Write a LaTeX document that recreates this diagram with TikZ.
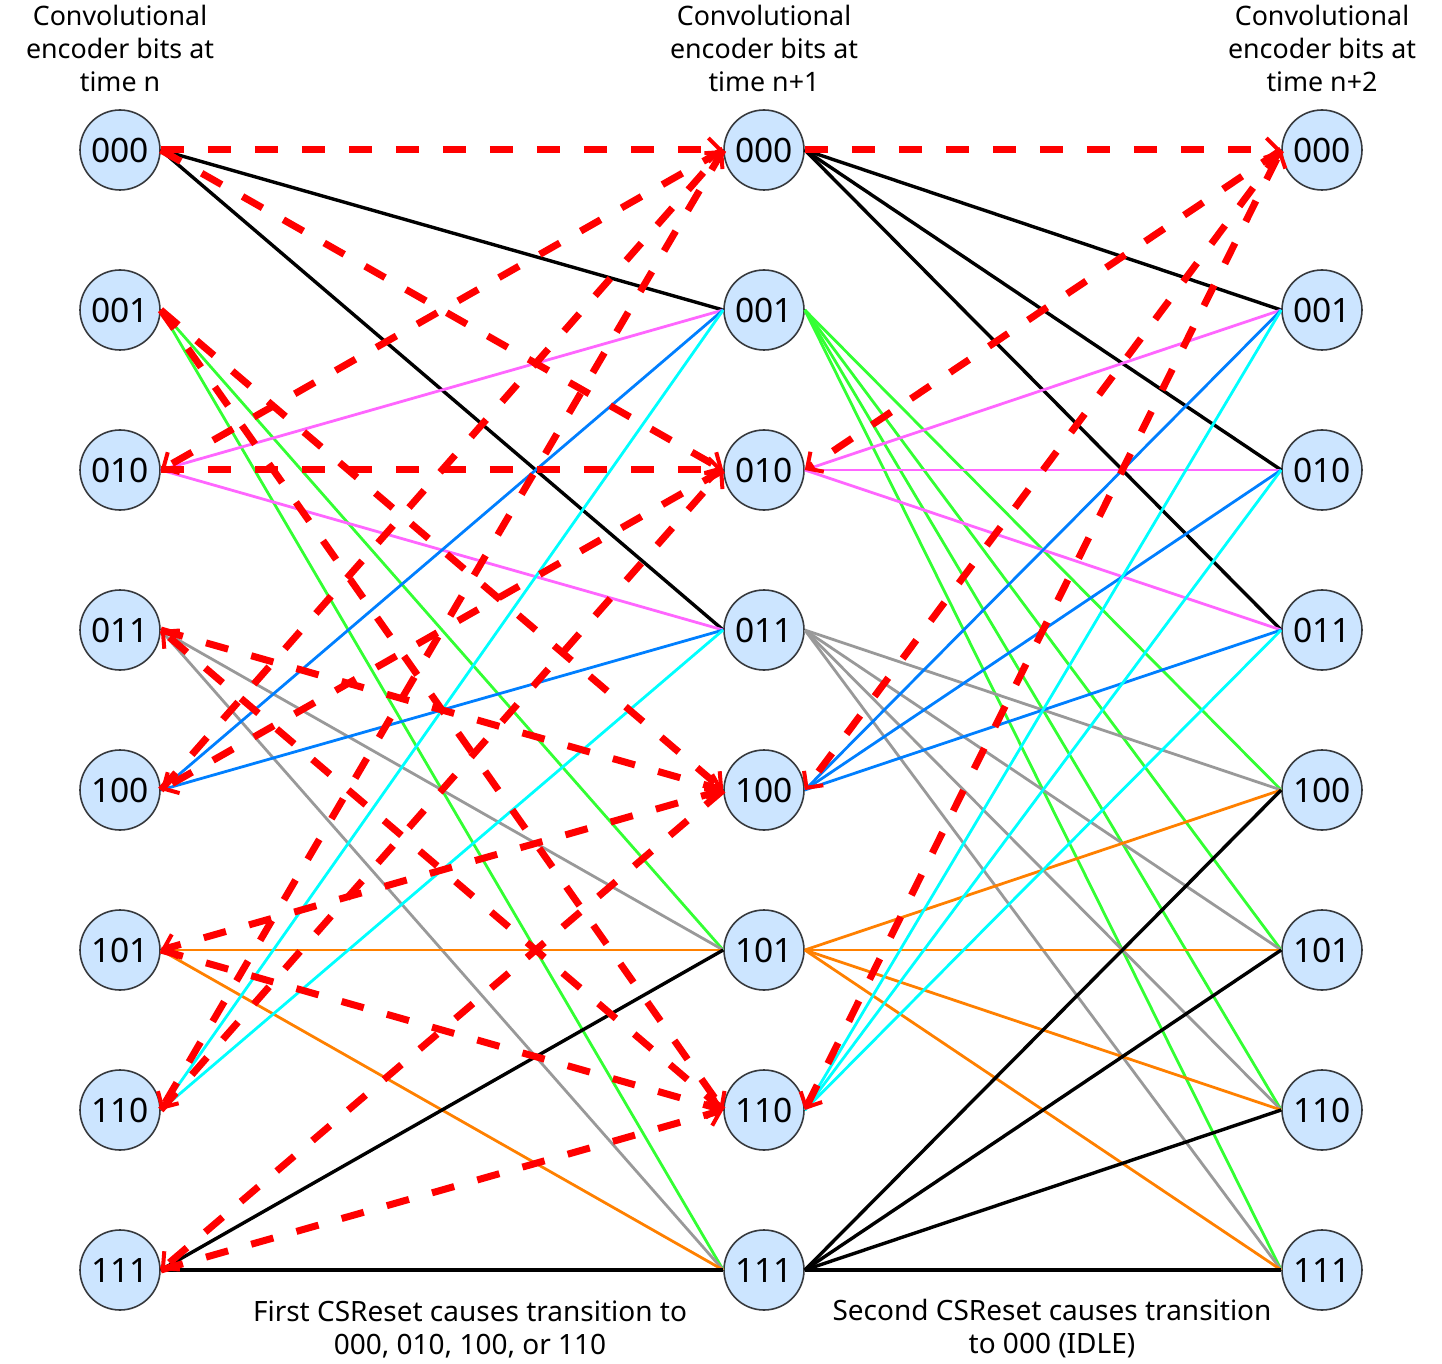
\documentclass[tikz,border=0pt]{standalone}
\usepackage{fontspec}
\setmainfont{Noto Sans}
\usepackage{tikz}
\usetikzlibrary{arrows.meta}

\definecolor{statefill}{HTML}{CCE5FF}
\definecolor{stateline}{HTML}{36393D}
\definecolor{magline}{HTML}{FF66FF}
\definecolor{bluline}{HTML}{007FFF}
\definecolor{cynline}{HTML}{00FFFF}
\definecolor{grnline}{HTML}{33FF33}
\definecolor{gryline}{HTML}{999999}
\definecolor{orgline}{HTML}{FF8000}

\begin{document}
\begin{tikzpicture}[x=0.5pt,y=-0.5pt,
    state/.style={circle,draw=stateline,fill=statefill,line width=0.8pt,
      minimum size=40pt,inner sep=0pt,font=\fontsize{16.8}{19}\selectfont},
    caption/.style={align=center,font=\fontsize{13.4}{16.5}\selectfont},
    note/.style={align=center,font=\fontsize{14}{16.5}\selectfont},
    blk/.style={black,line width=1.7pt},
    mag/.style={magline,line width=1.4pt},
    blu/.style={bluline,line width=1.4pt},
    cyn/.style={cynline,line width=1.4pt},
    grn/.style={grnline,line width=1.4pt},
    gry/.style={gryline,line width=1.4pt},
    org/.style={orgline,line width=1.4pt},
    rst/.style={red,line width=3.5pt,dash pattern=on 11.5pt off 12pt,
      -{Straight Barb[length=6pt,width=12pt,line width=2pt]}},
    rst both/.style={rst,{Straight Barb[length=6pt,width=12pt,line width=2pt]}-{Straight Barb[length=6pt,width=12pt,line width=2pt]}},
  ]

    \useasboundingbox (0,0) rectangle (1442,1364);

    % headers
    \node[caption] (hdrA) at (120,48)
    {Convolutional\\ encoder bits at\\ time n};
    \node[caption] (hdrB) at (764,48)
    {Convolutional\\ encoder bits at\\ time n+1};
    \node[caption] (hdrC) at (1322,48)
    {Convolutional\\ encoder bits at\\ time n+2};

    % time n
    \node[state] (a000) at (120,150) {000};
    \node[state] (a001) at (120,310) {001};
    \node[state] (a010) at (120,470) {010};
    \node[state] (a011) at (120,630) {011};
    \node[state] (a100) at (120,790) {100};
    \node[state] (a101) at (120,950) {101};
    \node[state] (a110) at (120,1110) {110};
    \node[state] (a111) at (120,1270) {111};

    % time n+1
    \node[state] (b000) at (764,150) {000};
    \node[state] (b001) at (764,310) {001};
    \node[state] (b010) at (764,470) {010};
    \node[state] (b011) at (764,630) {011};
    \node[state] (b100) at (764,790) {100};
    \node[state] (b101) at (764,950) {101};
    \node[state] (b110) at (764,1110) {110};
    \node[state] (b111) at (764,1270) {111};

    % time n+2
    \node[state] (c000) at (1322,150) {000};
    \node[state] (c001) at (1322,310) {001};
    \node[state] (c010) at (1322,470) {010};
    \node[state] (c011) at (1322,630) {011};
    \node[state] (c100) at (1322,790) {100};
    \node[state] (c101) at (1322,950) {101};
    \node[state] (c110) at (1322,1110) {110};
    \node[state] (c111) at (1322,1270) {111};

    % notes
    \node[note] (noteA) at (470,1329)
    {First CSReset causes transition to\\ 000, 010, 100, or 110};
    \node[note] (noteB) at (1052,1329)
    {Second CSReset causes transition\\ to 000 (IDLE)};

    % n -> n+1
    \draw[blk] (a000.east) -- (b001.west);
    \draw[blk] (a000.east) -- (b011.west);
    \draw[grn] (a001.east) -- (b101.west);
    \draw[grn] (a001.east) -- (b111.west);
    \draw[mag] (a010.east) -- (b001.west);
    \draw[mag] (a010.east) -- (b011.west);
    \draw[gry] (a011.east) -- (b101.west);
    \draw[gry] (a011.east) -- (b111.west);
    \draw[blu] (a100.east) -- (b001.west);
    \draw[blu] (a100.east) -- (b011.west);
    \draw[org] (a101.east) -- (b101.west);
    \draw[org] (a101.east) -- (b111.west);
    \draw[cyn] (a110.east) -- (b001.west);
    \draw[cyn] (a110.east) -- (b011.west);
    \draw[blk] (a111.east) -- (b101.west);
    \draw[blk] (a111.east) -- (b111.west);

    % n+1 -> n+2
    \draw[blk] (b000.east) -- (c001.west);
    \draw[blk] (b000.east) -- (c010.west);
    \draw[blk] (b000.east) -- (c011.west);
    \draw[grn] (b001.east) -- (c100.west);
    \draw[grn] (b001.east) -- (c101.west);
    \draw[grn] (b001.east) -- (c110.west);
    \draw[grn] (b001.east) -- (c111.west);
    \draw[mag] (b010.east) -- (c001.west);
    \draw[mag] (b010.east) -- (c010.west);
    \draw[mag] (b010.east) -- (c011.west);
    \draw[gry] (b011.east) -- (c100.west);
    \draw[gry] (b011.east) -- (c101.west);
    \draw[gry] (b011.east) -- (c110.west);
    \draw[gry] (b011.east) -- (c111.west);
    \draw[blu] (b100.east) -- (c001.west);
    \draw[blu] (b100.east) -- (c010.west);
    \draw[blu] (b100.east) -- (c011.west);
    \draw[org] (b101.east) -- (c100.west);
    \draw[org] (b101.east) -- (c101.west);
    \draw[org] (b101.east) -- (c110.west);
    \draw[org] (b101.east) -- (c111.west);
    \draw[cyn] (b110.east) -- (c001.west);
    \draw[cyn] (b110.east) -- (c010.west);
    \draw[cyn] (b110.east) -- (c011.west);
    \draw[blk] (b111.east) -- (c100.west);
    \draw[blk] (b111.east) -- (c101.west);
    \draw[blk] (b111.east) -- (c110.west);
    \draw[blk] (b111.east) -- (c111.west);

    % first CSReset
    \draw[rst] (a000.east) -- (b000.west);
    \draw[rst] (a000.east) -- (b010.west);
    \draw[rst] (a001.east) -- (b100.west);
    \draw[rst] (a001.east) -- (b110.west);
    \draw[rst] (b000.west) -- (a010.east);
    \draw[rst] (a010.east) -- (b010.west);
    \draw[rst] (b110.west) -- (a011.east);
    \draw[rst] (a011.east) -- (b100.west);
    \draw[rst] (a100.east) -- (b000.west);
    \draw[rst] (b010.west) -- (a100.east);
    \draw[rst] (b100.west) -- (a101.east);
    \draw[rst] (a101.east) -- (b110.west);
    \draw[rst] (b000.west) -- (a110.east);
    \draw[rst] (a110.east) -- (b010.west);
    \draw[rst] (b100.west) -- (a111.east);
    \draw[rst] (a111.east) -- (b110.west);

    % second CSReset
    \draw[rst] (b000.east) -- (c000.west);
    \draw[rst] (c000.west) -- (b010.east);
    \draw[rst] (c000.west) -- (b100.east);
    \draw[rst both] (b110.east) -- (c000.west);

  \end{tikzpicture}
\end{document}
